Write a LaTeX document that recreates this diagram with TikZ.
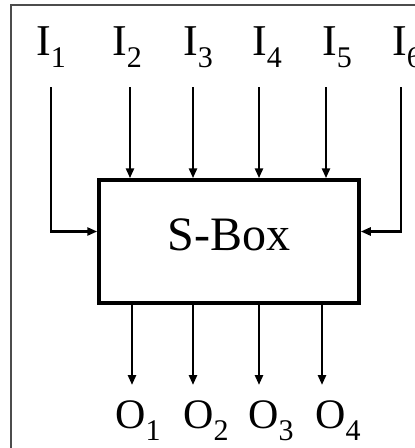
\documentclass[tikz,border=0pt]{standalone}
\usepackage{fontspec}
\setmainfont{Liberation Serif}
\usetikzlibrary{arrows.meta}
\newcommand{\sublab}[2]{#1\raisebox{-12pt}{\fontsize{30}{30}\selectfont #2}}

\begin{document}
\begin{tikzpicture}[x=1pt, y=-1pt, >={Triangle[length=10pt,width=8pt]},
    wire/.style={line width=2.5pt, ->},
    lab/.style={anchor=base west, inner sep=0pt, font=\fontsize{44}{44}\selectfont}]
  \useasboundingbox (0,0) rectangle (415,448);
  \draw[line width=2pt, black!70] (11,448) -- (11,5) -- (415,5);
  \node[draw, line width=3.5pt, minimum width=260pt, minimum height=123pt, text depth=14pt,
    font=\fontsize{48}{48}\selectfont] (sbox) at (229,241.5) {S-Box};
  \foreach \n/\lx/\ax in {1/36/51, 2/112/130, 3/183/193, 4/252/259, 5/322/326, 6/392/401} {
    \node[lab] (i\n) at (\lx,55) {\sublab{I}{\n}};
    \coordinate (a\n) at (\ax,87);
  }
  \foreach \n in {2,...,5} \draw[wire] (a\n) -- (a\n |- sbox.north);
  \draw[wire] (a1) |- ([yshift=10pt]sbox.west);
  \draw[wire] (a6) |- ([yshift=10pt]sbox.east);
  \foreach \n/\lx/\bx in {1/115/132, 2/183/193, 3/248/259, 4/315/322} {
    \node[lab, font=\fontsize{42}{42}\selectfont] (o\n) at (\lx,428) {\sublab{O}{\n}};
    \coordinate (b\n) at (\bx,385);
    \draw[wire] (b\n |- sbox.south) -- (b\n);
  }
\end{tikzpicture}
\end{document}
